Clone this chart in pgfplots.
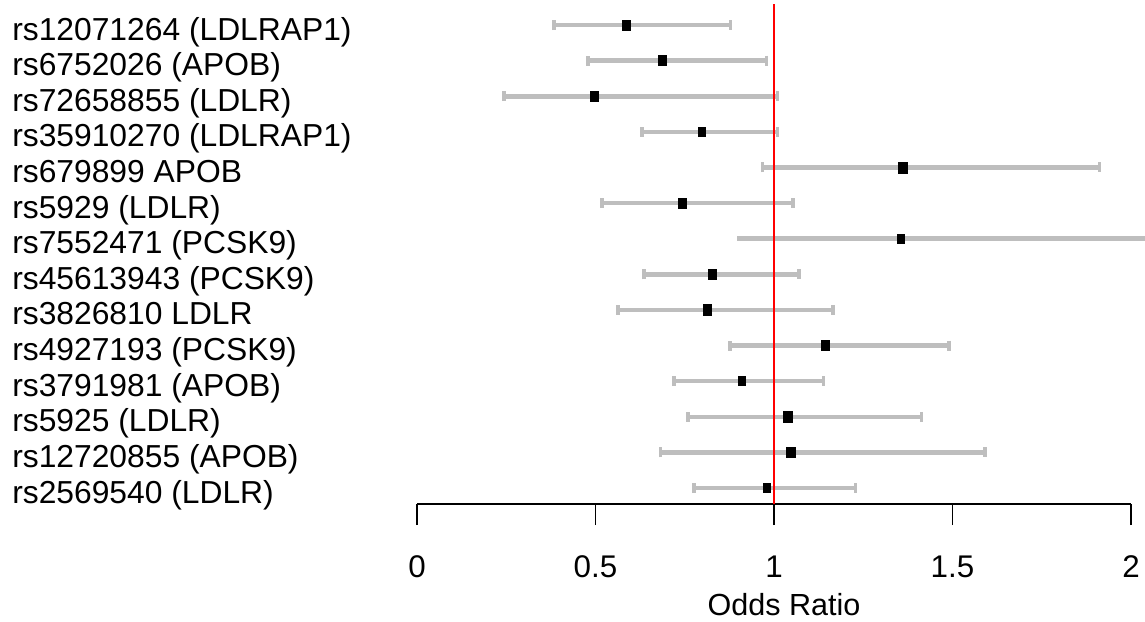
\documentclass[border=0pt]{standalone}
\usepackage{fontspec}
\setmainfont{Liberation Sans}
\usepackage{pgfplots}
\pgfplotsset{compat=1.18}
\usepackage{pgfplotstable}

\definecolor{barg}{HTML}{BEBEBE}

% rows from the top: y = 14 ... 1; lo / or / hi = 95% CI and odds ratio; s = marker half-height (pt)
\pgfplotstableread{
y  lo    or    hi    s
14 0.383 0.586 0.878 3.75
13 0.479 0.686 0.979 3.75
12 0.244 0.496 1.010 3.6
11 0.631 0.798 1.010 3.3
10 0.968 1.361 1.912 4.0
9  0.519 0.742 1.053 3.75
7  0.635 0.827 1.069 3.75
6  0.564 0.813 1.165 4.0
5  0.877 1.144 1.491 3.9
4  0.720 0.910 1.139 3.3
3  0.760 1.038 1.413 4.0
2  0.682 1.047 1.592 3.8
1  0.776 0.979 1.228 3.4
}\cidata

% the upper limit of this row runs past the plot edge
\pgfplotstableread{
y  lo    or    hi    s
8  0.895 1.355 2.060 3.2
}\cicut

\begin{document}
\begin{tikzpicture}
\path[use as bounding box] (0,0) rectangle (858.75pt,465.75pt);
\begin{axis}[
    at={(312.75pt,87.75pt)}, anchor=south west,
    scale only axis,
    width=535.5pt, height=375pt,
    xmin=0, xmax=2, ymin=0.551, ymax=14.59,
    clip=false,
    axis x line*=bottom,
    axis y line*=left,
    x axis line style={-, black, line width=1.2pt},
    y axis line style={draw=none},
    tick align=outside,
    major tick length=15.75pt,
    xtick={0,0.5,1,1.5,2},
    xtick style={black, line width=1.2pt},
    ytick style={draw=none},
    ytick={1,...,14},
    yticklabels={
      rs2569540 (LDLR),
      rs12720855 (APOB),
      rs5925 (LDLR),
      rs3791981 (APOB),
      rs4927193 (PCSK9),
      rs3826810 LDLR,
      rs45613943 (PCSK9),
      rs7552471 (PCSK9),
      rs5929 (LDLR),
      rs679899 APOB,
      rs35910270 (LDLRAP1),
      rs72658855 (LDLR),
      rs6752026 (APOB),
      rs12071264 (LDLRAP1)},
    xticklabel style={font=\fontsize{23.5}{28}\selectfont, anchor=base, yshift=-39pt},
    yticklabel style={font=\fontsize{23.85}{28}\selectfont, anchor=base west,
      inner sep=0pt, xshift=-288pt, yshift=-11.25pt},
    /pgf/number format/assume math mode=true,
    xlabel={Odds Ratio},
    x label style={at={(axis description cs:0.5,0)}, anchor=base, inner sep=0pt,
      xshift=7.5pt, yshift=-83.25pt, font=\fontsize{22.9}{28}\selectfont},
  ]
  % confidence intervals
  \addplot[only marks, mark=none, color=barg,
    error bars/.cd, x dir=both, x explicit, error mark=|,
    error bar style={line width=3.4pt, color=barg},
    error mark options={line width=2.8pt, mark size=3.75pt, color=barg}]
    table[x=or, y=y,
      x error plus expr=\thisrow{hi}-\thisrow{or},
      x error minus expr=\thisrow{or}-\thisrow{lo}] \cidata;
  \addplot[only marks, mark=none, color=barg,
    error bars/.cd, x dir=both, x explicit, error mark=none,
    error bar style={line width=3.4pt, color=barg}]
    table[x=or, y=y,
      x error plus expr=\thisrow{hi}-\thisrow{or},
      x error minus expr=\thisrow{or}-\thisrow{lo}] \cicut;
  % reference line at OR = 1
  \addplot[red, line width=1.1pt] coordinates {(1,0.551) (1,14.59)};
  % point estimates
  \addplot[scatter, only marks, mark=square*,
    scatter/use mapped color={draw=black, fill=black},
    mark options={xscale=0.8},
    visualization depends on={\thisrow{s} \as \msz},
    scatter/@pre marker code/.append style={/tikz/mark size=\msz pt}]
    table[x=or, y=y] \cidata;
  \addplot[scatter, only marks, mark=square*,
    scatter/use mapped color={draw=black, fill=black},
    mark options={xscale=0.8},
    visualization depends on={\thisrow{s} \as \msz},
    scatter/@pre marker code/.append style={/tikz/mark size=\msz pt}]
    table[x=or, y=y] \cicut;
\end{axis}
\end{tikzpicture}
\end{document}
